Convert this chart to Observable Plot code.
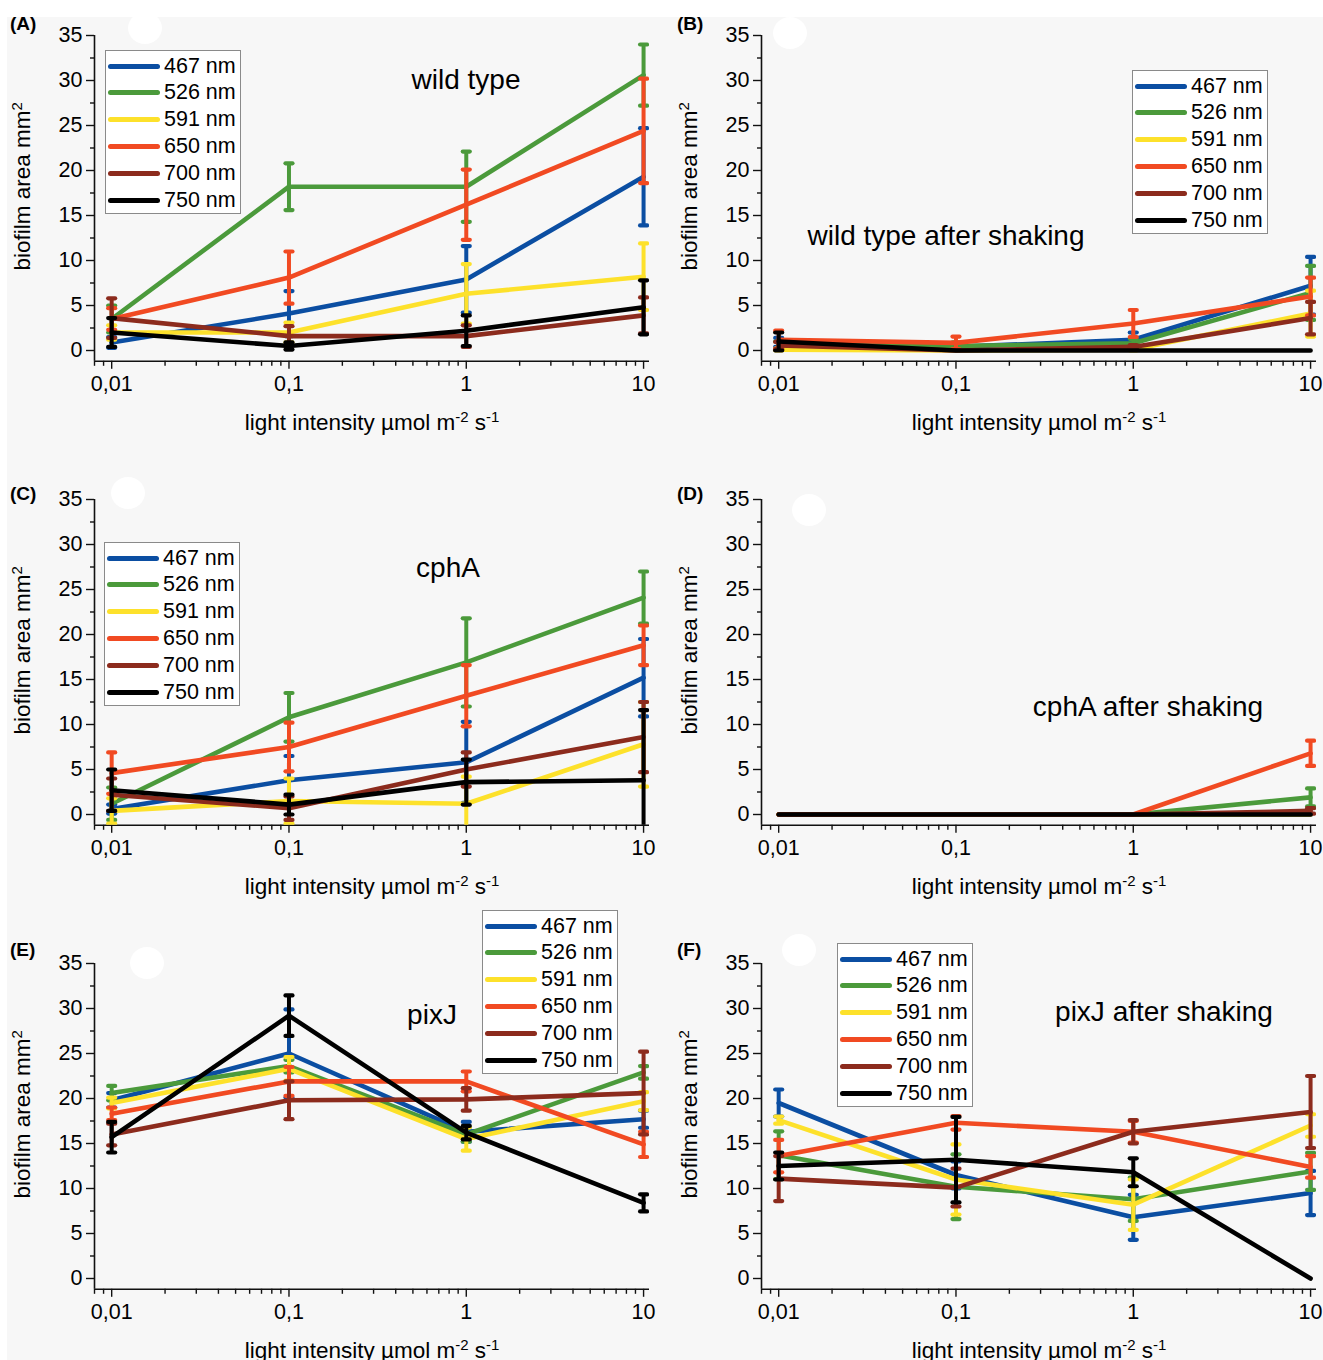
<!DOCTYPE html>
<html><head><meta charset="utf-8">
<script src="https://cdn.jsdelivr.net/npm/d3@7"></script>
<script src="https://cdn.jsdelivr.net/npm/@observablehq/plot@0.6"></script>
<style>
html,body{margin:0;padding:0;background:#fff;overflow:hidden}
#fig{position:relative;width:1323px;height:1360px;overflow:hidden;font-family:"Liberation Sans",Arial,sans-serif;color:#000}
.bg{position:absolute;left:7px;top:17px;right:0;bottom:0;background:#f7f7f7}
.blob{position:absolute;border-radius:50%;background:#fff}
.panel{position:absolute;width:660px;height:440px}
.panel svg{position:absolute;left:0;top:0;overflow:visible}
.letter{position:absolute;font-weight:bold;font-size:19px;line-height:19px}
.title{position:absolute;font-size:28px;line-height:28px;white-space:nowrap;transform:translate(-50%,-50%)}
.legend{position:absolute;border:1.5px solid #8a8a8a;background:#fff;width:136px;height:164px;box-sizing:border-box}
.legend .row{position:absolute;left:2px;height:26px;display:flex;align-items:center}
.legend .sw{width:52px;height:5px;border-radius:3px;margin-right:4px}
.legend .lb{font-size:21.5px;line-height:21px}
</style>
</head>
<body>
<div id="fig"><div class="bg"></div></div>
<script>
// ---------------- data ----------------
const intensities = [0.01, 0.1, 1, 10];
const tickLabels = ["0,01", "0,1", "1", "10"];
const wavelengths = ["467 nm", "526 nm", "591 nm", "650 nm", "700 nm", "750 nm"];
const yTicks = [0, 5, 10, 15, 20, 25, 30, 35];
const yMinorTicks = [2.5, 7.5, 12.5, 17.5, 22.5, 27.5, 32.5];
const panelTitles = ["wild type", "wild type after shaking", "cphA", "cphA after shaking", "pixJ", "pixJ after shaking"];
const panelLetters = ["(A)", "(B)", "(C)", "(D)", "(E)", "(F)"];

// rows: wavelengths; columns: intensities 0.01, 0.1, 1, 10
const wildTypeMean = [[0.9, 4.1, 7.9, 19.3], [3.5, 18.2, 18.2, 30.6], [2.0, 2.0, 6.3, 8.2], [3.5, 8.1, 16.2, 24.4], [3.6, 1.6, 1.6, 3.9], [2.0, 0.5, 2.2, 4.8]];
const wildTypeErr  = [[0.6, 2.5, 3.7, 5.4], [1.5, 2.6, 3.9, 3.4], [0.8, 1.1, 3.3, 3.7], [1.2, 2.9, 3.9, 5.8], [2.2, 1.1, 1.2, 2.0], [1.6, 0.4, 1.7, 3.0]];
const wildTypeShakenMean = [[0.9, 0.4, 1.2, 7.2], [0.6, 0.5, 0.8, 6.4], [0.1, 0.0, 0.1, 4.1], [1.2, 0.85, 3.0, 6.0], [0.55, 0.0, 0.4, 3.6], [1.0, 0.0, 0.0, 0.0]];
const wildTypeShakenErr  = [[0.5, 0.3, 0.8, 3.2], [0.4, 0.4, 0.5, 3.0], [0.1, 0.0, 0.1, 2.55], [1.0, 0.7, 1.5, 2.1], [0.4, 0.0, 0.2, 1.8], [1.0, 0.0, 0.0, 0.0]];
const cphAMean = [[0.6, 3.8, 5.8, 15.2], [1.2, 10.8, 16.9, 24.1], [0.4, 1.5, 1.2, 7.8], [4.6, 7.5, 13.2, 18.8], [2.2, 0.7, 5.0, 8.6], [2.7, 1.1, 3.6, 3.8]];
const cphAErr  = [[0.5, 2.7, 4.5, 4.3], [1.8, 2.7, 4.9, 2.9], [1.4, 2.5, 3.0, 4.7], [2.3, 2.7, 3.4, 2.2], [1.8, 1.3, 1.9, 3.9], [2.3, 1.1, 2.5, 7.8]];
const cphAShakenMean = [[0, 0, 0, 0], [0, 0, 0, 1.9], [0, 0, 0, 0], [0, 0, 0, 6.8], [0, 0, 0, 0.4], [0, 0, 0, 0]];
const cphAShakenErr  = [[0, 0, 0, 0], [0, 0, 0, 1.0], [0, 0, 0, 0], [0, 0, 0, 1.4], [0, 0, 0, 0.3], [0, 0, 0, 0]];
const pixJMean = [[19.8, 25.0, 16.3, 17.7], [20.6, 23.6, 16.0, 22.9], [19.5, 23.3, 15.5, 19.7], [18.3, 21.9, 21.9, 14.9], [16.0, 19.8, 19.9, 20.6], [15.7, 29.2, 16.2, 8.4]];
const pixJErr  = [[0.8, 4.9, 1.1, 0.95], [0.8, 0.7, 0.8, 0.7], [0.6, 1.3, 1.3, 1.0], [0.7, 1.6, 1.1, 1.4], [1.2, 2.1, 1.25, 4.6], [1.7, 2.25, 0.75, 0.95]];
const pixJShakenMean = [[19.5, 11.5, 6.8, 9.5], [13.7, 10.2, 8.8, 11.9], [17.6, 11.0, 8.2, 17.0], [13.6, 17.3, 16.3, 12.4], [11.1, 10.1, 16.3, 18.5], [12.5, 13.2, 11.8, 0.0]];
const pixJShakenErr  = [[1.5, 1.5, 2.5, 2.45], [2.65, 3.6, 2.4, 2.05], [0.4, 3.9, 2.8, 1.25], [1.8, 0.75, 1.2, 1.2], [2.5, 2.1, 1.3, 4.0], [1.5, 4.75, 1.55, 0]];

// ---------------- style / layout ----------------
const palette = ["#0b4ea2", "#4b9a3b", "#fde12b", "#f14a22", "#8c2b1d", "#000000"];
const X_DOMAIN = [0.008, 10.8];
const Y_DOMAIN = [-1.2, 35];
const FONT = '"Liberation Sans", Arial, sans-serif';

const panels = [
  {mean: wildTypeMean, err: wildTypeErr, left: 0, top: 0, legend: [105, 50], title: [466, 80], letterY: 24, blob: [145, 28]},
  {mean: wildTypeShakenMean, err: wildTypeShakenErr, left: 667, top: 0, legend: [465, 70], title: [279, 236], letterY: 24, blob: [123, 33]},
  {mean: cphAMean, err: cphAErr, left: 0, top: 464, legend: [104, 78], title: [448, 104], letterY: 30, blob: [128, 29]},
  {mean: cphAShakenMean, err: cphAShakenErr, left: 667, top: 464, legend: null, title: [481, 243], letterY: 30, blob: [142, 46]},
  {mean: pixJMean, err: pixJErr, left: 0, top: 928, legend: [482, -18], title: [432, 87], letterY: 22, blob: [147, 35]},
  {mean: pixJShakenMean, err: pixJShakenErr, left: 667, top: 928, legend: [170, 15], title: [497, 84], letterY: 22, blob: [132, 22]}
];

const capSymbol = {draw(context, size) { const w = Math.sqrt(size / Math.PI); context.moveTo(-w, 0); context.lineTo(w, 0); }};

const xMinorTicks = [];
for (const base of [0.001, 0.01, 0.1, 1]) for (let k = 2; k <= 9; k++) {
  const v = +(base * k).toPrecision(3);
  if (v >= X_DOMAIN[0] && v <= X_DOMAIN[1]) xMinorTicks.push(v);
}

function makePlot(mean, err) {
  const table = [];
  wavelengths.forEach((wl, i) => intensities.forEach((x, j) => table.push({wl, i, x, y: mean[i][j], e: err[i][j]})));
  const marks = [
    Plot.ruleX([X_DOMAIN[0]], {stroke: "#111", strokeWidth: 1.6}),
    Plot.ruleY([Y_DOMAIN[0]], {stroke: "#111", strokeWidth: 1.6}),
    Plot.axisY(yTicks, {anchor: "left", tickSize: 8, tickPadding: 4, fontSize: 21.5, label: null, stroke: "#111", strokeWidth: 1.4}),
    Plot.axisY(yMinorTicks, {anchor: "left", tickSize: 4, tickFormat: () => "", label: null, stroke: "#111", strokeWidth: 1.4}),
    Plot.axisX(intensities, {anchor: "bottom", tickSize: 8, tickPadding: 6, fontSize: 21.5, label: null, tickFormat: d => tickLabels[intensities.indexOf(d)], stroke: "#111", strokeWidth: 1.4}),
    Plot.axisX(xMinorTicks, {anchor: "bottom", tickSize: 5, tickFormat: () => "", label: null, stroke: "#111", strokeWidth: 1.4}),
    Plot.text(["biofilm area mm^2"], {text: d => d, frameAnchor: "left", dx: -72, dy: -12, rotate: -90, fontSize: 22.5, textAnchor: "middle", lineAnchor: "middle"}),
    Plot.text(["light intensity µmol m^-2 s^-1"], {text: d => d, frameAnchor: "bottom", dy: 61, fontSize: 22.5, lineAnchor: "middle"})
  ];
  wavelengths.forEach((wl, i) => {
    const s = table.filter(d => d.i === i);
    const eb = s.filter(d => d.e > 0);
    marks.push(Plot.line(s, {x: "x", y: "y", stroke: palette[i], strokeWidth: 4.6, strokeLinejoin: "round", strokeLinecap: "round"}));
    marks.push(Plot.ruleX(eb, {x: "x", y1: d => d.y - d.e, y2: d => d.y + d.e, stroke: palette[i], strokeWidth: 4, clip: true}));
    for (const f of [d => d.y - d.e, d => d.y + d.e]) {
      marks.push(Plot.dot(eb, {x: "x", y: f, r: 3.5, symbol: capSymbol, fill: "none", stroke: palette[i], strokeWidth: 4.2, strokeLinecap: "round", clip: true}));
    }
  });
  const svg = Plot.plot({
    width: 660, height: 440,
    marginLeft: 94, marginRight: 11, marginTop: 35, marginBottom: 79.2,
    x: {type: "log", domain: X_DOMAIN},
    y: {domain: Y_DOMAIN},
    style: {background: "transparent", fontFamily: FONT, fontSize: "21px", color: "#000", overflow: "visible"},
    marks
  });
  // superscripts in axis labels
  d3.select(svg).selectAll("text").each(function() {
    const t = this.textContent;
    if (!t.includes("^")) return;
    const parts = t.split(/\^(-?\d+)/);
    const el = d3.select(this);
    el.text(null);
    parts.forEach((p, k) => {
      if (p === "") return;
      if (k % 2 === 1) {
        el.append("tspan").attr("font-size", 15).attr("dy", -8).text(p);
      } else {
        const ts = el.append("tspan").text(p);
        if (k > 0) ts.attr("dy", 8);
      }
    });
  });
  return svg;
}

const fig = document.getElementById("fig");
panels.forEach((p, k) => {
  const blob = document.createElement("div");
  blob.className = "blob";
  Object.assign(blob.style, {left: (p.left + p.blob[0] - 17) + "px", top: (p.top + p.blob[1] - 16) + "px", width: "34px", height: "32px"});
  fig.appendChild(blob);

  const div = document.createElement("div");
  div.className = "panel";
  div.style.left = p.left + "px";
  div.style.top = p.top + "px";
  div.appendChild(makePlot(p.mean, p.err));

  const letter = document.createElement("div");
  letter.className = "letter";
  letter.textContent = panelLetters[k];
  letter.style.left = "10px";
  letter.style.top = (p.letterY - 10) + "px";
  div.appendChild(letter);

  const title = document.createElement("div");
  title.className = "title";
  title.textContent = panelTitles[k];
  title.style.left = p.title[0] + "px";
  title.style.top = p.title[1] + "px";
  div.appendChild(title);

  if (p.legend) {
    const lg = document.createElement("div");
    lg.className = "legend";
    lg.style.left = p.legend[0] + "px";
    lg.style.top = p.legend[1] + "px";
    wavelengths.forEach((wl, i) => {
      const row = document.createElement("div");
      row.className = "row";
      row.style.top = (2 + i * 26.8) + "px";
      const sw = document.createElement("div");
      sw.className = "sw";
      sw.style.background = palette[i];
      const lb = document.createElement("span");
      lb.className = "lb";
      lb.textContent = wl;
      row.appendChild(sw); row.appendChild(lb);
      lg.appendChild(row);
    });
    div.appendChild(lg);
  }
  fig.appendChild(div);
});
</script>
</body></html>
